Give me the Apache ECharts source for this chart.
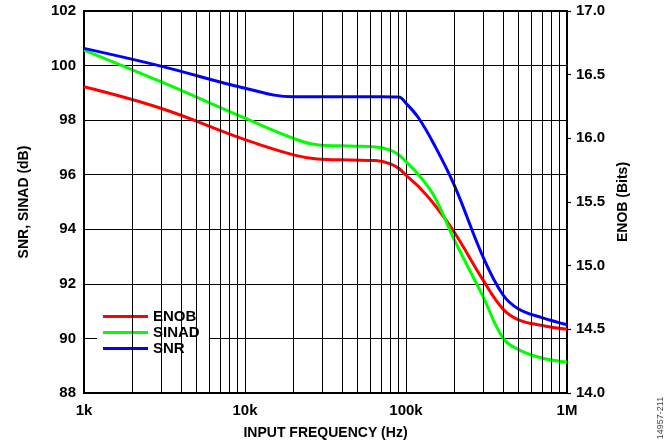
<!DOCTYPE html>
<html>
<head>
<meta charset="utf-8">
<script src="https://cdn.jsdelivr.net/npm/echarts@6/dist/echarts.min.js"></script>
<style>html,body{margin:0;padding:0;background:#fff}#c{width:670px;height:446px}</style>
</head>
<body>
<div id="c"></div>
<script>
// ---- data ----
var snrFreqs = [1000, 3000, 10000, 20000, 30000, 50000, 70000, 90000, 100000, 120000, 150000, 200000, 300000, 400000, 500000, 700000, 1000000];
var snr      = [100.63, 99.98, 99.17, 98.86, 98.86, 98.86, 98.86, 98.85, 98.62, 98.07, 97.09, 95.6, 93.01, 91.6, 91.08, 90.76, 90.5];
var sinadFreqs = [1000, 3000, 10000, 20000, 28000, 45000, 65000, 80000, 90000, 100000, 120000, 150000, 200000, 300000, 400000, 500000, 700000, 1000000];
var sinad      = [100.57, 99.41, 98.07, 97.33, 97.10, 97.05, 97.02, 96.90, 96.73, 96.48, 95.99, 95.2, 93.6, 91.55, 90.02, 89.59, 89.28, 89.13];
var enobFreqs = [1000, 3000, 10000, 20000, 28000, 45000, 65000, 80000, 90000, 100000, 120000, 150000, 200000, 300000, 400000, 500000, 700000, 1000000];
var enob      = [16.405, 16.236, 15.99, 15.87, 15.838, 15.83, 15.825, 15.80, 15.765, 15.71, 15.62, 15.48, 15.26, 14.89, 14.66, 14.575, 14.53, 14.50];
var seriesNames = ['ENOB', 'SINAD', 'SNR'];
var xTickValues = [1000, 10000, 100000, 1000000];
var xTickLabels = ['1k', '10k', '100k', '1M'];
var leftTicks = [88, 90, 92, 94, 96, 98, 100, 102];
var rightTicks = [14.0, 14.5, 15.0, 15.5, 16.0, 16.5, 17.0];

function zip(xs, ys) { return xs.map(function (x, i) { return [x, ys[i]]; }); }
// minor log grid lines (2..9 within each decade)
var minorGrid = [];
for (var d = 1000; d < 1000000; d *= 10) {
  for (var m = 2; m <= 9; m++) minorGrid.push({ xAxis: d * m });
}

var FONT = '"Liberation Sans", Arial, Helvetica, sans-serif';
var chart = echarts.init(document.getElementById('c'));
var lblStyle = { color: '#000', fontWeight: 'bold', fontSize: 15, fontFamily: FONT };
chart.setOption({
  animation: false,
  backgroundColor: '#fff',
  grid: { left: 84, right: 103, top: 11, bottom: 53, show: true, borderColor: '#000', borderWidth: 2, backgroundColor: 'transparent' },
  xAxis: {
    type: 'log', logBase: 10, min: 1000, max: 1000000,
    name: 'INPUT FREQUENCY (Hz)', nameLocation: 'middle', nameGap: 33,
    nameTextStyle: { color: '#000', fontWeight: 'bold', fontSize: 14, fontFamily: FONT },
    axisLine: { show: true, lineStyle: { color: '#000', width: 2 } },
    axisTick: { show: false },
    axisLabel: Object.assign({ margin: 10, formatter: function (v) { var i = xTickValues.indexOf(Math.round(v)); return i >= 0 ? xTickLabels[i] : ''; } }, lblStyle),
    splitLine: { show: true, lineStyle: { color: '#000', width: 1 } }
  },
  yAxis: [{
    type: 'value', min: leftTicks[0], max: leftTicks[leftTicks.length - 1], interval: 2,
    name: 'SNR, SINAD (dB)', nameLocation: 'middle', nameGap: 53, nameRotate: 90,
    nameTextStyle: { color: '#000', fontWeight: 'bold', fontSize: 14, fontFamily: FONT },
    axisLine: { show: true, lineStyle: { color: '#000', width: 2 } },
    axisTick: { show: false },
    axisLabel: Object.assign({ margin: 8 }, lblStyle),
    splitLine: { show: true, lineStyle: { color: '#000', width: 1 } }
  }, {
    type: 'value', min: rightTicks[0], max: rightTicks[rightTicks.length - 1], interval: 0.5,
    position: 'right',
    name: 'ENOB (Bits)', nameLocation: 'middle', nameGap: 48, nameRotate: 90,
    nameTextStyle: { color: '#000', fontWeight: 'bold', fontSize: 14, fontFamily: FONT },
    axisLine: { show: true, lineStyle: { color: '#000', width: 2 } },
    axisTick: { show: true, length: 4, lineStyle: { color: '#000', width: 1.2 } },
    axisLabel: Object.assign({ margin: 9, formatter: function (v) { return v.toFixed(1); } }, lblStyle),
    splitLine: { show: false }
  }],
  legend: {
    orient: 'vertical', left: 97, top: 303,
    data: seriesNames,
    icon: 'rect', itemWidth: 45, itemHeight: 3, itemGap: 1,
    backgroundColor: '#fff', padding: [6, 10, 6, 6],
    textStyle: { color: '#000', fontWeight: 'bold', fontSize: 15, fontFamily: FONT, lineHeight: 15 }
  },
  series: [{
    type: 'line', data: [], z: 1, silent: true,
    markLine: { silent: true, symbol: 'none', label: { show: false }, animation: false,
      lineStyle: { color: '#000', width: 1, type: 'solid' }, data: minorGrid }
  }, {
    name: 'ENOB', type: 'line', yAxisIndex: 1, data: zip(enobFreqs, enob), smooth: 0.4, showSymbol: false, z: 3,
    lineStyle: { color: '#ff0000', width: 3 }, itemStyle: { color: '#ff0000' }
  }, {
    name: 'SINAD', type: 'line', data: zip(sinadFreqs, sinad), smooth: 0.4, showSymbol: false, z: 3,
    lineStyle: { color: '#00ff00', width: 3 }, itemStyle: { color: '#00ff00' }
  }, {
    name: 'SNR', type: 'line', data: zip(snrFreqs, snr), smooth: 0.4, showSymbol: false, z: 3,
    lineStyle: { color: '#0000ff', width: 3 }, itemStyle: { color: '#0000ff' }
  }],
  graphic: [{
    type: 'text', x: 661, y: 418, rotation: Math.PI / 2,
    style: { text: '14957-211', fill: '#444', font: '9px ' + FONT, align: 'center', verticalAlign: 'middle' }
  }]
});
</script>
</body>
</html>
